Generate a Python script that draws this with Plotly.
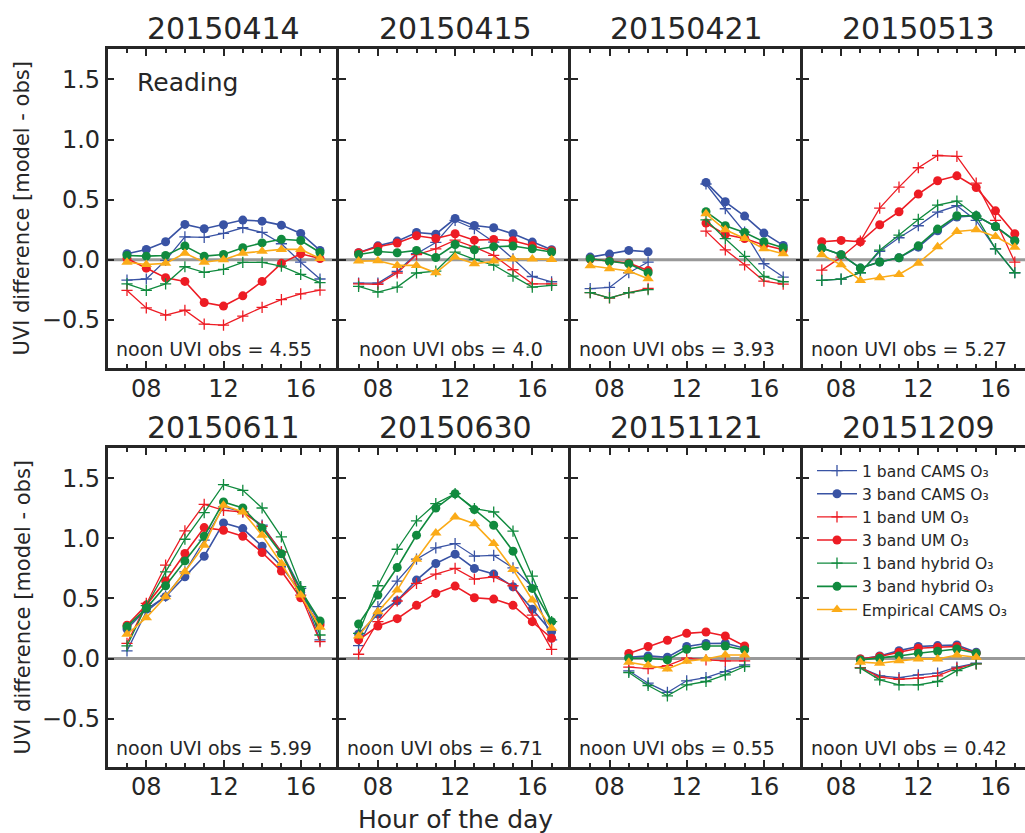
import plotly.graph_objects as go

# ---------------- data ----------------
dates = ["20150414", "20150415", "20150421", "20150513",
         "20150611", "20150630", "20151121", "20151209"]
noon_obs = ["4.55", "4.0", "3.93", "5.27", "5.99", "6.71", "0.55", "0.42"]

hours_full = [7, 8, 9, 10, 11, 12, 13, 14, 15, 16, 17]
hours_gap = [7, 8, 9, 10, None, 13, 14, 15, 16, 17]
hours_winter = [9, 10, 11, 12, 13, 14, 15]

series_names = ["1 band CAMS O\u2083", "3 band CAMS O\u2083",
                "1 band UM O\u2083", "3 band UM O\u2083",
                "1 band hybrid O\u2083", "3 band hybrid O\u2083",
                "Empirical CAMS O\u2083"]

# 20150414
p1_cams1 = [-0.17, -0.16, -0.005, 0.19, 0.186, 0.22, 0.266, 0.227, 0.133, -0.02, -0.16]
p1_cams3 = [0.05, 0.086, 0.15, 0.294, 0.258, 0.291, 0.33, 0.321, 0.288, 0.219, 0.078]
p1_um1 = [-0.255, -0.40, -0.46, -0.42, -0.535, -0.543, -0.468, -0.396, -0.332, -0.283, -0.252]
p1_um3 = [0.01, -0.07, -0.15, -0.18, -0.355, -0.385, -0.30, -0.18, -0.03, 0.05, 0.01]
p1_hyb1 = [-0.20, -0.255, -0.20, -0.058, -0.105, -0.08, -0.022, -0.022, -0.053, -0.122, -0.19]
p1_hyb3 = [0.036, 0.03, 0.036, 0.114, 0.03, 0.044, 0.10, 0.14, 0.17, 0.16, 0.06]
p1_emp = [-0.02, -0.04, -0.03, 0.055, -0.02, 0.0, 0.055, 0.07, 0.086, 0.086, 0.01]

# 20150415
p2_cams1 = [-0.194, -0.194, -0.097, 0.05, 0.144, 0.327, 0.258, 0.147, 0.008, -0.139, -0.183]
p2_cams3 = [0.058, 0.116, 0.155, 0.227, 0.213, 0.343, 0.285, 0.266, 0.216, 0.147, 0.083]
p2_um1 = [-0.2, -0.205, -0.11, 0.042, 0.091, 0.163, 0.105, 0.036, -0.083, -0.2, -0.2]
p2_um3 = [0.058, 0.108, 0.139, 0.2, 0.177, 0.216, 0.163, 0.169, 0.158, 0.116, 0.075]
p2_hyb1 = [-0.222, -0.269, -0.227, -0.11, -0.094, 0.064, 0.003, -0.044, -0.136, -0.227, -0.213]
p2_hyb3 = [0.044, 0.069, 0.058, 0.078, 0.019, 0.127, 0.083, 0.108, 0.114, 0.091, 0.064]
p2_emp = [-0.011, -0.008, -0.047, -0.047, -0.108, 0.022, -0.033, -0.011, 0.006, 0.006, 0.003]

# 20150421 (gap between 10 and 13)
p3_cams1 = [-0.24, -0.23, -0.108, -0.019, None, 0.63, 0.424, 0.23, -0.033, -0.144]
p3_cams3 = [0.022, 0.047, 0.078, 0.066, None, 0.643, 0.482, 0.363, 0.222, 0.119]
p3_um1 = [-0.274, -0.318, -0.274, -0.238, None, 0.238, 0.083, -0.042, -0.177, -0.202]
p3_um3 = [0.006, -0.011, -0.028, -0.09, None, 0.305, 0.21, 0.177, 0.122, 0.083]
p3_hyb1 = [-0.274, -0.316, -0.274, -0.249, None, 0.332, 0.175, 0.028, -0.139, -0.183]
p3_hyb3 = [0.008, -0.014, -0.033, -0.108, None, 0.4, 0.283, 0.227, 0.15, 0.1]
p3_emp = [-0.05, -0.075, -0.094, -0.158, None, 0.382, 0.249, 0.177, 0.091, 0.05]

# 20150513
p4_cams1 = [-0.172, -0.161, -0.108, 0.069, 0.183, 0.283, 0.396, 0.449, 0.327, 0.091, -0.108]
p4_cams3 = [0.097, 0.042, -0.069, -0.019, 0.017, 0.105, 0.241, 0.355, 0.366, 0.277, 0.158]
p4_um1 = [-0.086, 0.022, 0.155, 0.429, 0.604, 0.765, 0.867, 0.859, 0.637, 0.327, -0.019]
p4_um3 = [0.15, 0.161, 0.15, 0.291, 0.399, 0.546, 0.657, 0.698, 0.601, 0.407, 0.216]
p4_hyb1 = [-0.172, -0.161, -0.108, 0.08, 0.205, 0.335, 0.454, 0.488, 0.363, 0.091, -0.108]
p4_hyb3 = [0.097, 0.042, -0.069, -0.019, 0.017, 0.116, 0.255, 0.366, 0.366, 0.277, 0.158]
p4_emp = [0.042, -0.042, -0.172, -0.15, -0.122, -0.028, 0.108, 0.235, 0.249, 0.194, 0.105]

# 20150611
p5_cams1 = [0.064, 0.39, 0.52, 0.722, 0.985, 1.262, 1.22, 1.11, 0.888, 0.584, 0.155]
p5_cams3 = [0.246, 0.41, 0.515, 0.681, 0.852, 1.129, 1.082, 0.935, 0.769, 0.551, 0.299]
p5_um1 = [0.127, 0.459, 0.777, 1.062, 1.284, 1.234, 1.22, 1.101, 0.888, 0.528, 0.141]
p5_um3 = [0.277, 0.445, 0.647, 0.874, 1.09, 1.068, 1.018, 0.883, 0.728, 0.506, 0.279]
p5_hyb1 = [0.105, 0.44, 0.722, 0.993, 1.215, 1.447, 1.4, 1.253, 1.013, 0.598, 0.196]
p5_hyb3 = [0.266, 0.418, 0.606, 0.813, 1.018, 1.303, 1.253, 1.087, 0.872, 0.57, 0.313]
p5_emp = [0.202, 0.34, 0.515, 0.722, 0.944, 1.276, 1.22, 1.027, 0.791, 0.528, 0.26]

# 20150630
p6_cams1 = [0.108, 0.432, 0.645, 0.827, 0.921, 0.957, 0.852, 0.858, 0.755, 0.598, 0.155]
p6_cams3 = [0.205, 0.371, 0.481, 0.653, 0.791, 0.869, 0.75, 0.703, 0.598, 0.41, 0.224]
p6_um1 = [0.036, 0.307, 0.479, 0.625, 0.703, 0.75, 0.661, 0.681, 0.606, 0.362, 0.077]
p6_um3 = [0.155, 0.271, 0.332, 0.443, 0.542, 0.603, 0.506, 0.495, 0.443, 0.307, 0.169]
p6_hyb1 = [0.21, 0.606, 0.91, 1.146, 1.29, 1.372, 1.248, 1.22, 1.06, 0.686, 0.307]
p6_hyb3 = [0.288, 0.528, 0.758, 1.027, 1.253, 1.372, 1.24, 1.11, 0.894, 0.584, 0.307]
p6_emp = [0.188, 0.39, 0.57, 0.827, 1.046, 1.179, 1.123, 0.957, 0.742, 0.487, 0.252]

# 20151121
p7_cams1 = [-0.102, -0.205, -0.282, -0.185, -0.158, -0.108, -0.053]
p7_cams3 = [0.011, 0.022, 0.011, 0.1, 0.125, 0.127, 0.086]
p7_um1 = [-0.072, -0.083, -0.058, 0.003, -0.011, -0.019, -0.019]
p7_um3 = [0.042, 0.1, 0.152, 0.21, 0.221, 0.188, 0.105]
p7_hyb1 = [-0.116, -0.224, -0.31, -0.219, -0.191, -0.136, -0.066]
p7_hyb3 = [0.003, 0.003, -0.011, 0.077, 0.105, 0.105, 0.072]
p7_emp = [-0.03, -0.055, -0.086, -0.022, -0.003, 0.03, 0.03]

# 20151209
p8_cams1 = [-0.075, -0.144, -0.158, -0.136, -0.122, -0.072, -0.039]
p8_cams3 = [-0.003, 0.022, 0.066, 0.1, 0.108, 0.113, 0.053]
p8_um1 = [-0.075, -0.155, -0.172, -0.163, -0.144, -0.08, -0.044]
p8_um3 = [-0.003, 0.017, 0.053, 0.086, 0.094, 0.1, 0.044]
p8_hyb1 = [-0.08, -0.177, -0.219, -0.219, -0.191, -0.1, -0.044]
p8_hyb3 = [-0.011, 0.003, 0.022, 0.044, 0.061, 0.08, 0.044]
p8_emp = [-0.03, -0.039, -0.019, -0.003, -0.003, 0.03, 0.011]

panels = [
    (hours_full, [p1_cams1, p1_cams3, p1_um1, p1_um3, p1_hyb1, p1_hyb3, p1_emp]),
    (hours_full, [p2_cams1, p2_cams3, p2_um1, p2_um3, p2_hyb1, p2_hyb3, p2_emp]),
    (hours_gap, [p3_cams1, p3_cams3, p3_um1, p3_um3, p3_hyb1, p3_hyb3, p3_emp]),
    (hours_full, [p4_cams1, p4_cams3, p4_um1, p4_um3, p4_hyb1, p4_hyb3, p4_emp]),
    (hours_full, [p5_cams1, p5_cams3, p5_um1, p5_um3, p5_hyb1, p5_hyb3, p5_emp]),
    (hours_full, [p6_cams1, p6_cams3, p6_um1, p6_um3, p6_hyb1, p6_hyb3, p6_emp]),
    (hours_winter, [p7_cams1, p7_cams3, p7_um1, p7_um3, p7_hyb1, p7_hyb3, p7_emp]),
    (hours_winter, [p8_cams1, p8_cams3, p8_um1, p8_um3, p8_hyb1, p8_hyb3, p8_emp]),
]

yticks = [-0.5, 0, 0.5, 1.0, 1.5]
yticklabels = ["\u22120.5", "0.0", "0.5", "1.0", "1.5"]
xticks = [8, 12, 16]
xticklabels = ["08", "12", "16"]

# ---------------- style ----------------
BLUE = "#3953a4"
RED = "#ed1c24"
GREEN = "#108a3e"
ORANGE = "#fbab18"
series_style = [
    (BLUE, "cross-thin", 8, 1.3),
    (BLUE, "circle", 9, 1.6),
    (RED, "cross-thin", 8, 1.3),
    (RED, "circle", 9, 1.6),
    (GREEN, "cross-thin", 8, 1.3),
    (GREEN, "circle", 9, 1.6),
    (ORANGE, "triangle-up", 10, 1.6),
]
TXT = "#262626"
FONT = "DejaVu Sans"
W, H = 1025, 833

col_px = [(107.7, 339.3), (339.3, 570.9), (570.9, 802.5), (802.5, 1025.0)]
row_px = [(49.3, 368.0), (448.3, 766.7)]
px_per_hour = 19.3
YR = [-0.9, 1.75]

fig = go.Figure()
layout = dict(
    width=W, height=H, margin=dict(l=0, r=0, t=0, b=0),
    paper_bgcolor="white", plot_bgcolor="white",
    font=dict(family=FONT, color=TXT),
    showlegend=True,
    legend=dict(x=812 / W, y=1 - 454 / H, xanchor="left", yanchor="top",
                font=dict(size=15.5, family=FONT, color=TXT),
                bgcolor="rgba(255,255,255,0)", itemwidth=40,
                tracegroupgap=0),
)
annotations = []
shapes = []
extra_axis = 9

for i, (hrs, vals) in enumerate(panels):
    r, c = divmod(i, 4)
    n = i + 1
    xa = "xaxis" if n == 1 else f"xaxis{n}"
    ya = "yaxis" if n == 1 else f"yaxis{n}"
    xr = "x" if n == 1 else f"x{n}"
    yr = "y" if n == 1 else f"y{n}"
    x0, x1 = col_px[c]
    y0, y1 = row_px[r]
    xmax = 6 + (x1 - x0) / px_per_hour
    layout[xa] = dict(
        domain=[x0 / W, x1 / W], anchor=yr, range=[6, xmax],
        tickvals=xticks, ticktext=xticklabels,
        ticks="inside", ticklen=7, tickwidth=1.5, tickcolor=TXT,
        minor=dict(dtick=1, tick0=0, ticks="inside", ticklen=4, tickwidth=1.5, tickcolor=TXT),
        showline=True, linewidth=2.5, linecolor=TXT, mirror="ticks",
        showgrid=False, zeroline=False, ticklabelstandoff=-3,
        tickfont=dict(size=24, family=FONT, color=TXT), automargin=False,
    )
    layout[ya] = dict(
        domain=[1 - y1 / H, 1 - y0 / H], anchor=xr, range=YR,
        tickvals=yticks, ticktext=yticklabels,
        ticks="inside", ticklen=7, tickwidth=1.5, tickcolor=TXT,
        showline=True, linewidth=2.5, linecolor=TXT, mirror=False,
        showgrid=False, zeroline=False, showticklabels=(c == 0),
        tickfont=dict(size=24, family=FONT, color=TXT), automargin=False,
    )
    if c < 3:
        # right-side inward ticks (the divider line itself comes from the next panel)
        ea = f"yaxis{extra_axis}"
        er = f"y{extra_axis}"
        layout[ea] = dict(
            domain=[1 - y1 / H, 1 - y0 / H], anchor=xr, overlaying=yr, side="right",
            range=YR, tickvals=yticks, ticks="inside", ticklen=7, tickwidth=1.5,
            tickcolor=TXT, showline=False, showgrid=False, zeroline=False,
            showticklabels=False, automargin=False,
        )
        fig.add_trace(go.Scatter(x=[None], y=[None], xaxis=xr, yaxis=er,
                                 showlegend=False, hoverinfo="skip"))
        extra_axis += 1
    shapes.append(dict(type="line", xref=f"{xr} domain", yref=yr, x0=0, x1=1, y0=0, y1=0,
                       line=dict(color="#999999", width=3), layer="below"))
    for k, (v, (col, sym, sz, lw)) in enumerate(zip(vals, series_style)):
        marker = dict(symbol=sym, size=sz, color=col)
        if sym == "cross-thin":
            marker["line"] = dict(color=col, width=1.3)
        else:
            marker["line"] = dict(width=0)
        fig.add_trace(go.Scatter(
            x=hrs, y=v, mode="lines+markers", name=series_names[k],
            line=dict(color=col, width=lw), marker=marker,
            xaxis=xr, yaxis=yr, showlegend=(i == 7), connectgaps=False,
        ))
    annotations.append(dict(text=dates[i], xref="paper", yref="paper",
                            x=(x0 + x0 + 231.6) / 2 / W,
                            y=1 - (y0 - 21) / H,
                            xanchor="center", yanchor="middle", showarrow=False,
                            font=dict(size=30, family=FONT, color=TXT)))
    annotations.append(dict(text=f"noon UVI obs = {noon_obs[i]}",
                            xref=f"{xr} domain", yref=f"{yr} domain",
                            x=206 / (x1 - x0), y=0.06,
                            xanchor="right", yanchor="middle", showarrow=False,
                            font=dict(size=19, family=FONT, color=TXT)))

annotations.append(dict(text="Reading", xref="x domain", yref="y domain",
                        x=0.116, y=0.897, xanchor="left", yanchor="middle",
                        showarrow=False, font=dict(size=25, family=FONT, color=TXT)))
for yc in [208.6, 607.5]:
    annotations.append(dict(text="UVI difference [model - obs]", xref="paper", yref="paper",
                            x=22 / W, y=1 - yc / H, textangle=-90,
                            xanchor="center", yanchor="middle", showarrow=False,
                            font=dict(size=21, family=FONT, color=TXT)))
annotations.append(dict(text="Hour of the day", xref="paper", yref="paper",
                        x=455 / W, y=1 - 819 / H, xanchor="center", yanchor="middle",
                        showarrow=False, font=dict(size=25, family=FONT, color=TXT)))

layout["annotations"] = annotations
layout["shapes"] = shapes
fig.update_layout(**layout)
fig.write_html("out.html", config={"displayModeBar": False},
               post_script="document.body.style.margin='0';document.body.style.overflow='hidden';")
